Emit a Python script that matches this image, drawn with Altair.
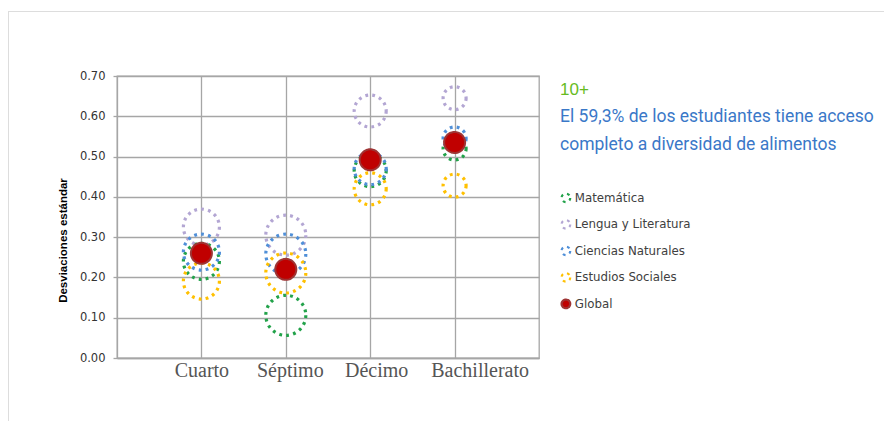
import altair as alt
import pandas as pd

grados = ["Cuarto", "Séptimo", "Décimo", "Bachillerato"]
series = ["Matemática", "Lengua y Literatura", "Ciencias Naturales", "Estudios Sociales", "Global"]
matematica = [0.24, 0.106, 0.465, 0.52]
lengua = [0.325, 0.305, 0.613, 0.645]
ciencias = [0.263, 0.258, 0.47, 0.545]
sociales = [0.191, 0.211, 0.42, 0.428]
global_ = [0.26, 0.22, 0.492, 0.535]
y_ticks = [0.0, 0.1, 0.2, 0.3, 0.4, 0.5, 0.6, 0.7]

valores = [matematica, lengua, ciencias, sociales, global_]
rows = []
for s, vals in zip(series, valores):
    for g, v in zip(grados, vals):
        rows.append({"grado": g, "serie": s, "valor": v})
df = pd.DataFrame(rows)

stroke_colors = ["#22a24a", "#b3a6d3", "#4f8fd8", "#ffc000", "#9e3434"]
fill_colors = ["transparent", "transparent", "transparent", "transparent", "#c00000"]
dashes = [[2.8, 4.2], [2.8, 4.2], [2.8, 4.2], [2.8, 4.2], [1, 0]]
bubble_sizes = {"Cuarto": 1296, "Séptimo": 1600, "Décimo": 1024, "Bachillerato": 529}

label_shift = {
    "condition": [
        {"test": "datum.value === 'Séptimo'", "value": 4},
        {"test": "datum.value === 'Décimo'", "value": 6},
        {"test": "datum.value === 'Bachillerato'", "value": 25},
    ],
    "value": 0,
}

x_enc = alt.X("grado:N", sort=grados, title=None,
              scale=alt.Scale(type="point", padding=1),
              axis=alt.Axis(labelFont="Liberation Serif", labelFontSize=20, labelColor="#555555",
                            labelAngle=0, ticks=False, labelPadding=2, grid=True,
                            labelOffset=label_shift,
                            gridColor="#a6a6a6", gridWidth=1.3, domainColor="#a6a6a6",
                            domainWidth=1.3))
y_enc = alt.Y("valor:Q", title="Desviaciones estándar",
              scale=alt.Scale(domain=[0, 0.7], nice=False, zero=True),
              axis=alt.Axis(values=y_ticks, format=".2f", labelFont="DejaVu Sans",
                            labelFontSize=11.5, labelColor="#333333", labelPadding=8,
                            tickSize=4, tickColor="#a6a6a6", tickWidth=1.3,
                            gridColor="#a6a6a6", gridWidth=1.3, domainColor="#a6a6a6",
                            domainWidth=1.3, titleFont="Liberation Sans", titleFontSize=11.5,
                            titleFontWeight="bold", titleColor="#000000", titleAngle=270,
                            titleX=-54, titleY=164, titleAlign="center",
                            titleBaseline="middle"))

legend = alt.Legend(title=None, orient="none", legendX=443, legendY=116,
                    labelFont="DejaVu Sans", labelFontSize=11.8, labelColor="#404040",
                    symbolSize=75, symbolStrokeWidth=2.2, rowPadding=8.5, labelOffset=3,
                    padding=0)

stroke_enc = alt.Stroke("serie:N", sort=series,
                        scale=alt.Scale(domain=series, range=stroke_colors), legend=legend)
fill_enc = alt.Fill("serie:N", sort=series,
                    scale=alt.Scale(domain=series, range=fill_colors), legend=legend)
dash_enc = alt.StrokeDash("serie:N", sort=series,
                          scale=alt.Scale(domain=series, range=dashes), legend=legend)

base = alt.Chart(df)

circle_layers = []
for g in grados:
    circle_layers.append(
        base.transform_filter(
            (alt.datum.serie != "Global") & (alt.datum.grado == g)
        ).mark_point(
            shape="circle", strokeWidth=3.2, opacity=1, size=bubble_sizes[g]
        ).encode(x=x_enc, y=y_enc, stroke=stroke_enc, fill=fill_enc, strokeDash=dash_enc)
    )

glob = base.transform_filter(alt.datum.serie == "Global").mark_point(
    shape="circle", strokeWidth=2, opacity=1, size=441
).encode(
    x=x_enc, y=y_enc, stroke=stroke_enc, fill=fill_enc, strokeDash=dash_enc,
)

note = alt.Chart(pd.DataFrame({"t": ["10+"]})).mark_text(
    align="left", baseline="alphabetic", font="Liberation Sans", fontSize=17,
    color="#66bb22"
).encode(text="t:N", x=alt.value(443), y=alt.value(19))

line1 = alt.Chart(pd.DataFrame({"t": ["El 59,3% de los estudiantes tiene acceso"]})).mark_text(
    align="left", baseline="alphabetic", font="Roboto", fontSize=17.5,
    color="#3a78c8"
).encode(text="t:N", x=alt.value(443), y=alt.value(45.7))

line2 = alt.Chart(pd.DataFrame({"t": ["completo a diversidad de alimentos"]})).mark_text(
    align="left", baseline="alphabetic", font="Roboto", fontSize=17.5,
    color="#3a78c8"
).encode(text="t:N", x=alt.value(443), y=alt.value(74))

frame_top = alt.Chart(pd.DataFrame({"a": [0]})).mark_rule(
    color="#dddddd", strokeWidth=1
).encode(x=alt.value(-109), x2=alt.value(780), y=alt.value(-64.5))
frame_left = alt.Chart(pd.DataFrame({"a": [0]})).mark_rule(
    color="#dddddd", strokeWidth=1
).encode(x=alt.value(-108.5), y=alt.value(-64.5), y2=alt.value(345))

chart = alt.layer(frame_top, frame_left, *circle_layers, glob, note, line1, line2).properties(
    width=422, height=282,
    autosize=alt.AutoSizeParams(type="none"),
    padding={"left": 109, "top": 68, "right": 345, "bottom": 63},
    background="white",
).configure_view(stroke="#a6a6a6", strokeWidth=1.3).resolve_scale(
    stroke="shared", fill="shared", strokeDash="shared"
)

chart.save("out.html", embed_options={"renderer": "svg", "actions": False})
